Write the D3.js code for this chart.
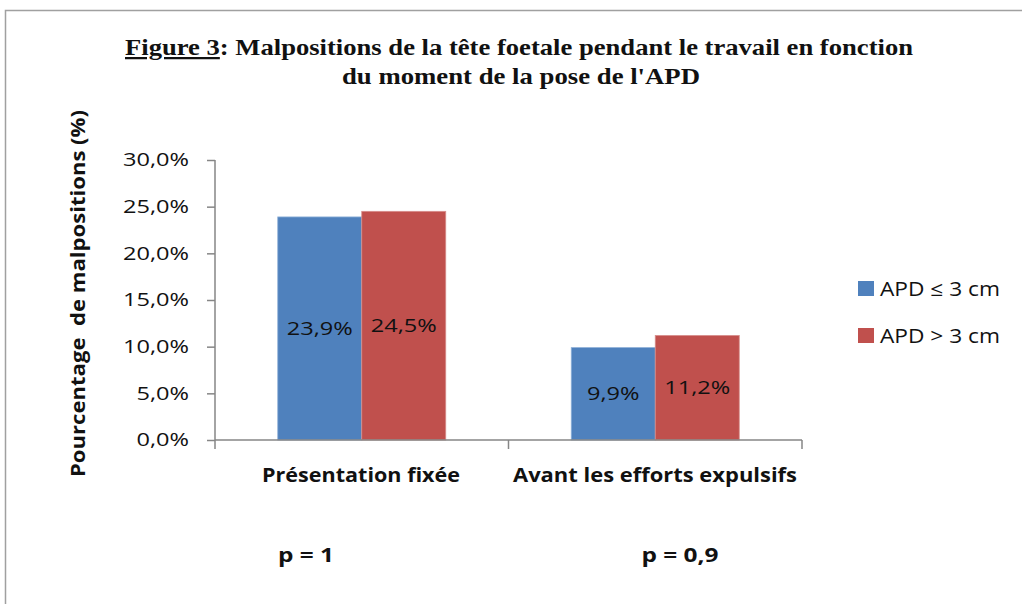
<!DOCTYPE html>
<html><head><meta charset="utf-8">
<script src="https://cdn.jsdelivr.net/npm/d3@7"></script>
<style>body{margin:0;background:#fff}svg{display:block}</style>
</head><body>
<svg id="c" width="1022" height="604"></svg>
<script>
const categories = ["Présentation fixée", "Avant les efforts expulsifs"];
const seriesNames = ["APD ≤ 3 cm", "APD > 3 cm"];
const seriesLow = [23.9, 9.9];
const seriesHigh = [24.5, 11.2];
const yTicks = [0, 5, 10, 15, 20, 25, 30];
const pValues = ["p = 1", "p = 0,9"];
const colors = ["#4F81BD", "#C0504D"];

const svg = d3.select("#c");
const font = "'Open Sans', sans-serif";
function fitW(sel, w){ sel.attr("textLength", w).attr("lengthAdjust","spacingAndGlyphs"); return sel; }
function stretchK(sel, k){ sel.each(function(){ const n=this.getComputedTextLength(); d3.select(this).attr("textLength", n*k).attr("lengthAdjust","spacingAndGlyphs"); }); }

// frame
svg.append("path").attr("d","M5.5,604 V10.5 H1022").attr("fill","none").attr("stroke","#a0a0a0").attr("stroke-width",1.5);

// title
const t = svg.append("text").attr("text-anchor","start").attr("font-family","'Liberation Serif', serif").attr("font-weight","bold").attr("font-size",22.5).attr("fill","#111");
const l1 = t.append("tspan").attr("x",125).attr("y",55);
fitW(l1, 788);
l1.append("tspan").attr("text-decoration","underline").text("Figure 3");
l1.append("tspan").text(": Malpositions de la tête foetale pendant le travail en fonction");
fitW(t.append("tspan").attr("x",342).attr("y",84).text("du moment de la pose de l'APD"), 358);

const x0 = d3.scaleBand().domain(categories).range([215,802]);
const x1 = d3.scaleBand().domain([0,1]).range([0,x0.bandwidth()]).paddingInner(0).paddingOuter(0.747);
const y = d3.scaleLinear().domain([0,30]).range([440,160]);

// y axis
const ya = svg.append("g").attr("transform","translate(215,0)")
  .call(d3.axisLeft(y).tickValues(yTicks).tickSize(8).tickPadding(18).tickFormat(d=>d.toFixed(1).replace(".",",")+"%"));
ya.selectAll("path,line").attr("stroke","#868686").attr("stroke-width",1.5);
ya.select(".domain").attr("d","M0,160 V440");
ya.selectAll("text").attr("font-family",font).attr("font-size",18.5).attr("fill","#111");
const probe = ya.selectAll("text").filter(d=>d===30).node();
const K = 66 / probe.getComputedTextLength();
stretchK(ya.selectAll("text"), K);

const data = categories.map((c,i)=>({c, vals:[seriesLow[i], seriesHigh[i]]}));
const g = svg.append("g");
data.forEach(d=>{
  d.vals.forEach((v,j)=>{
    const bx = x0(d.c)+x1(j);
    g.append("rect").attr("x",bx).attr("y",y(v)).attr("width",x1.bandwidth()).attr("height",y(0)-y(v))
      .attr("fill",colors[j]).attr("stroke", j===0?"#8eb0d8":"#d88e8b").attr("stroke-width",0.8);
    const tx = g.append("text").attr("x",bx+x1.bandwidth()/2).attr("y",(y(v)+y(0))/2).attr("dy","0.36em")
      .attr("text-anchor","middle").attr("font-family",font).attr("font-size",18.5).attr("fill","#111")
      .text(v.toFixed(1).replace(".",",")+"%");
    stretchK(tx, K);
  });
});

// x axis
const xa = svg.append("g").attr("transform","translate(0,440)");
xa.append("line").attr("x1",215).attr("x2",802).attr("stroke","#868686").attr("stroke-width",1.5);
[215, ...categories.map(c=>x0(c)+x0.bandwidth())].forEach(px=>{
  xa.append("line").attr("x1",px).attr("x2",px).attr("y1",0).attr("y2",9).attr("stroke","#868686").attr("stroke-width",1.5);
});
const catW = [198, 284];
const catX = [361, 655];
categories.forEach((c,i)=>{
  fitW(xa.append("text").attr("x",catX[i]).attr("y",42).attr("text-anchor","middle")
    .attr("font-family",font).attr("font-weight","bold").attr("font-size",19).attr("fill","#111").text(c), catW[i]);
});

// p values
const pX = [306, 680], pW = [56, 77];
pValues.forEach((p,i)=>{
  fitW(svg.append("text").attr("x",pX[i]).attr("y",562).attr("text-anchor","middle").attr("font-family",font)
    .attr("font-weight","bold").attr("font-size",20).attr("fill","#111").text(p), pW[i]);
});

// y title
fitW(svg.append("text").attr("transform","translate(85,293.5) rotate(-90)").attr("text-anchor","middle")
  .attr("font-family",font).attr("font-weight","bold").attr("font-size",20).attr("fill","#111")
  .style("white-space","pre").text("Pourcentage  de malpositions (%)"), 367);

// legend
seriesNames.forEach((n,i)=>{
  const ly = 281 + i*47;
  svg.append("rect").attr("x",858).attr("y",ly).attr("width",16).attr("height",15).attr("fill",colors[i]);
  fitW(svg.append("text").attr("x",880).attr("y",ly+15).attr("font-family",font)
    .attr("font-size",20).attr("fill","#111").text(n), 120);
});
</script>
</body></html>
